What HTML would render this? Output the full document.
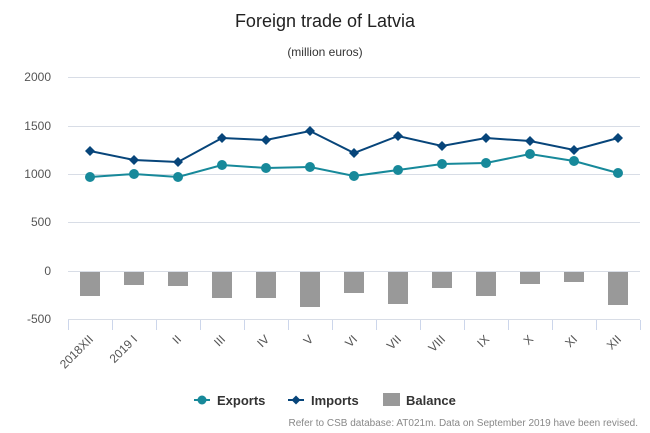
<!DOCTYPE html><html><head><style>body{margin:0;background:#fff}svg{display:block;font-family:"Liberation Sans",sans-serif}</style></head><body>
<svg width="650" height="433" xmlns="http://www.w3.org/2000/svg">
<text x="325" y="27" text-anchor="middle" font-size="18" fill="#222">Foreign trade of Latvia</text>
<text x="325" y="56" text-anchor="middle" font-size="12" fill="#333">(million euros)</text>
<g stroke="#d8dde6" stroke-width="1">
<line x1="68" x2="640" y1="77.5" y2="77.5"/><line x1="68" x2="640" y1="126.5" y2="126.5"/><line x1="68" x2="640" y1="174.5" y2="174.5"/><line x1="68" x2="640" y1="222.5" y2="222.5"/><line x1="68" x2="640" y1="271.5" y2="271.5"/><line x1="68" x2="640" y1="319.5" y2="319.5"/>
</g>
<g font-size="12" fill="#555" text-anchor="end">
<text x="51" y="81">2000</text><text x="51" y="130">1500</text><text x="51" y="178">1000</text><text x="51" y="226">500</text><text x="51" y="275">0</text><text x="51" y="323">-500</text>
</g>
<g stroke="#ccd6eb" stroke-width="1" id="ticks"></g>
<g fill="#999" id="bars"></g>
<polyline id="imp" fill="none" stroke="#07457a" stroke-width="2"/>
<polyline id="exp" fill="none" stroke="#17899a" stroke-width="2"/>
<g id="mk"></g>
<g id="lab" font-size="12" fill="#555"></g>
<g font-size="13" font-weight="bold" fill="#333">
<line x1="194" x2="210" y1="400" y2="400" stroke="#17899a" stroke-width="2"/><circle cx="202" cy="400" r="4.5" fill="#17899a"/><text x="217" y="405">Exports</text>
<line x1="288" x2="304" y1="400" y2="400" stroke="#07457a" stroke-width="2"/><path d="M296 395.5L300.5 400L296 404.5L291.5 400Z" fill="#07457a"/><text x="311" y="405">Imports</text>
<rect x="383" y="393" width="17" height="13" fill="#999"/><text x="406" y="405">Balance</text>
</g>
<text x="638" y="426" text-anchor="end" font-size="10" fill="#888">Refer to CSB database: AT021m. Data on September 2019 have been revised.</text>
<script>
var L=["2018XII","2019 I","II","III","IV","V","VI","VII","VIII","IX","X","XI","XII"];
var E=[177,174,177,165,168,167,176,170,164,163,154,161,173];
var I=[151,160,162,138,140,131,153,136,146,138,141,150,138];
var B=[296,285,286,298,298,307,293,304,288,296,284,282,305];
var ns="http://www.w3.org/2000/svg",w=44,s="",t="";
function el(p,n,a){var e=document.createElementNS(ns,n);for(var k in a)e.setAttribute(k,a[k]);document.getElementById(p).appendChild(e);return e}
for(var i=0;i<=13;i++)el("ticks","line",{x1:68.5+i*w,x2:68.5+i*w,y1:320,y2:330});
for(i=0;i<13;i++){var x=90+i*w;
el("bars","rect",{x:x-10,y:272,width:20,height:B[i]-272});
s+=x+","+E[i]+" ";t+=x+","+I[i]+" ";
el("mk","circle",{cx:x,cy:E[i],r:5,fill:"#17899a"});
el("mk","path",{d:"M"+x+" "+(I[i]-5)+"L"+(x+5)+" "+I[i]+"L"+x+" "+(I[i]+5)+"L"+(x-5)+" "+I[i]+"Z",fill:"#07457a"});
var tx=el("lab","text",{x:x+4,y:340,"text-anchor":"end",transform:"rotate(-45 "+(x+4)+" 340)"});tx.textContent=L[i];}
document.getElementById("exp").setAttribute("points",s);document.getElementById("imp").setAttribute("points",t);
</script>
</svg></body></html>
